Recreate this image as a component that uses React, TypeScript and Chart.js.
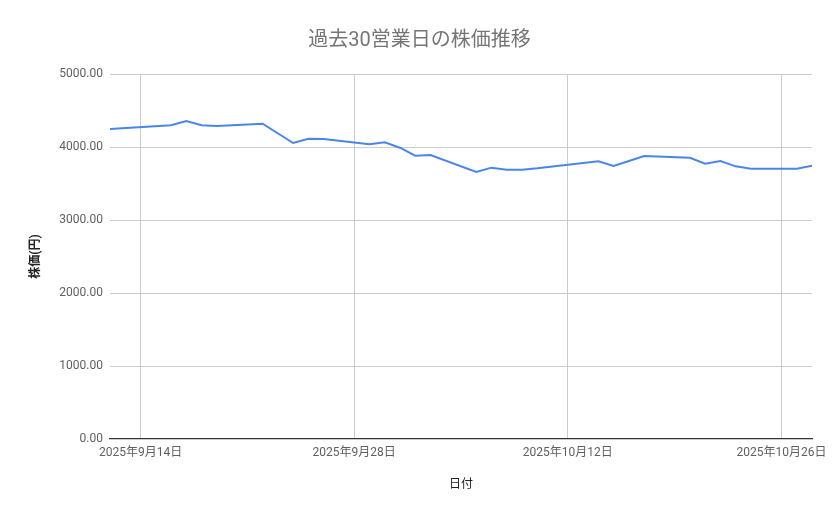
import { useEffect, useRef } from "react";
import { Chart, registerables } from "chart.js";

Chart.register(...registerables);

// 営業日（祝日 9/15, 9/23, 10/13 を除く）
const dates = [
  "2025-09-12", "2025-09-16", "2025-09-17", "2025-09-18", "2025-09-19",
  "2025-09-22", "2025-09-24", "2025-09-25", "2025-09-26", "2025-09-29",
  "2025-09-30", "2025-10-01", "2025-10-02", "2025-10-03", "2025-10-06",
  "2025-10-07", "2025-10-08", "2025-10-09", "2025-10-10", "2025-10-14",
  "2025-10-15", "2025-10-16", "2025-10-17", "2025-10-20", "2025-10-21",
  "2025-10-22", "2025-10-23", "2025-10-24", "2025-10-27", "2025-10-28",
];

const prices = [
  4247, 4297, 4356, 4297, 4288,
  4320, 4055, 4114, 4110, 4037,
  4064, 3990, 3881, 3890, 3658,
  3717, 3690, 3690, 3708, 3804,
  3740, 3808, 3877, 3853, 3771,
  3808, 3735, 3703, 3703, 3744,
];

const xTickDates = ["2025-09-14", "2025-09-28", "2025-10-12", "2025-10-26"];
const yTicks = [0, 1000, 2000, 3000, 4000, 5000];

const FONT = "Roboto, 'Noto Sans CJK JP', sans-serif";
const DAY = 86400000;

function toDay(s: string) {
  const [y, m, d] = s.split("-").map(Number);
  return Date.UTC(y, m - 1, d) / DAY;
}

const base = toDay(dates[0]);

function fmtDate(offset: number) {
  const dt = new Date((base + offset) * DAY);
  return `${dt.getUTCFullYear()}年${dt.getUTCMonth() + 1}月${dt.getUTCDate()}日`;
}

export default function App() {
  const canvasRef = useRef<HTMLCanvasElement>(null);
  const chartRef = useRef<Chart | null>(null);

  useEffect(() => {
    if (!canvasRef.current) return;
    chartRef.current?.destroy();

    chartRef.current = new Chart(canvasRef.current, {
      type: "line",
      data: {
        datasets: [
          {
            label: "株価",
            data: dates.map((d, i) => ({ x: toDay(d) - base, y: prices[i] })),
            borderColor: "#4a86e8",
            borderWidth: 2,
            pointRadius: 0,
            tension: 0,
            fill: false,
          },
        ],
      },
      options: {
        animation: false,
        responsive: true,
        maintainAspectRatio: false,
        layout: { padding: 0 },
        plugins: {
          legend: { display: false },
          tooltip: { enabled: false },
          title: {
            display: true,
            text: "過去30営業日の株価推移",
            color: "#757575",
            font: { family: FONT, size: 20, weight: "normal" },
            padding: { top: 29, bottom: 21 },
          },
        },
        scales: {
          x: {
            type: "linear",
            min: 0,
            max: toDay(dates[dates.length - 1]) - base,
            afterBuildTicks: (scale) => {
              scale.ticks = xTickDates.map((d) => ({ value: toDay(d) - base }));
            },
            afterFit: (scale) => {
              scale.height = 80;
            },
            ticks: {
              callback: (v) => fmtDate(Number(v)),
              color: "#5f5f5f",
              font: { family: FONT, size: 12 },
              padding: 7,
              maxRotation: 0,
              autoSkip: false,
            },
            grid: { color: "#cccccc", drawTicks: false },
            border: { display: true, color: "#333333", width: 1.2 },
            title: {
              display: true,
              text: "日付",
              color: "#222222",
              font: { family: FONT, size: 12 },
              padding: { top: 0, bottom: 27 },
            },
          },
          y: {
            min: 0,
            max: 5000,
            afterBuildTicks: (scale) => {
              scale.ticks = yTicks.map((v) => ({ value: v }));
            },
            afterFit: (scale) => {
              scale.width = 110;
            },
            ticks: {
              callback: (v) => Number(v).toFixed(2),
              color: "#5f5f5f",
              font: { family: FONT, size: 12 },
              padding: 7,
            },
            grid: {
              color: (ctx) => (ctx.tick && ctx.tick.value === 0 ? "rgba(0,0,0,0)" : "#cccccc"),
              drawTicks: false,
            },
            border: { display: false },
            title: {
              display: true,
              text: "株価(円)",
              color: "#222222",
              font: { family: FONT, size: 12, weight: "bold" },
              padding: { top: 29, bottom: 0 },
            },
          },
          yR: {
            type: "linear",
            position: "right",
            display: true,
            afterFit: (scale) => {
              scale.width = 27;
            },
            ticks: { display: false },
            grid: { display: false },
            border: { display: false },
          },
        },
      },
    });

    return () => {
      chartRef.current?.destroy();
      chartRef.current = null;
    };
  }, []);

  return (
    <div style={{ position: "absolute", left: 0, top: 0, width: 839, height: 519, background: "#fff" }}>
      <canvas ref={canvasRef} />
    </div>
  );
}
